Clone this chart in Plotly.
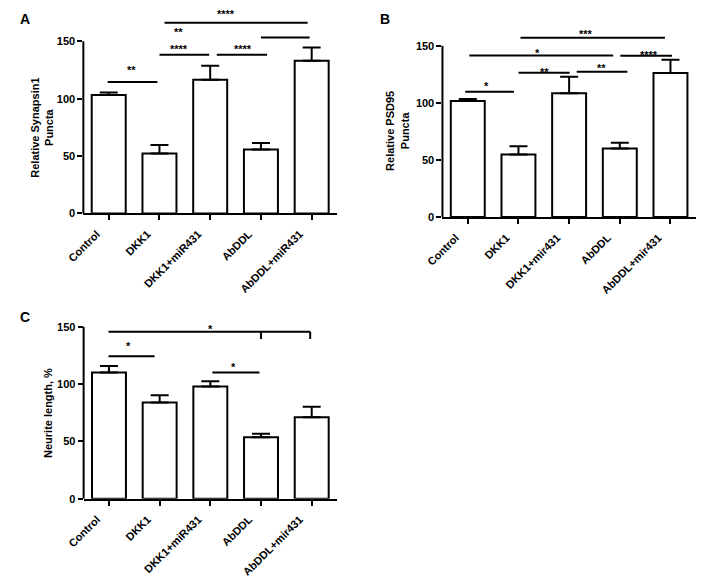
import plotly.graph_objects as go

# ---------------- data ----------------
categories_A = ["Control", "DKK1", "DKK1+miR431", "AbDDL", "AbDDL+miR431"]
categories_B = ["Control", "DKK1", "DKK1+mir431", "AbDDL", "AbDDL+mir431"]
categories_C = ["Control", "DKK1", "DKK1+miR431", "AbDDL", "AbDDL+mir431"]

synapsin_mean = [103.2, 52.3, 116.6, 55.7, 133.1]
synapsin_err = [2.3, 7.4, 12.2, 5.7, 11.5]

psd95_mean = [101.5, 54.8, 108.4, 60.0, 126.0]
psd95_err = [1.8, 7.2, 14.4, 5.1, 11.7]

neurite_mean = [110.0, 84.0, 98.0, 53.7, 71.1]
neurite_err = [5.7, 6.3, 4.5, 2.9, 9.2]

y_ticks = [0, 50, 100, 150]

# significance lines: x0, x1 (category index), y
sig_A_x0 = [-0.02, 1.0, 2.13, 3.0, 1.1]
sig_A_x1 = [0.96, 1.98, 3.12, 3.96, 3.92]
sig_A_y = [114.6, 138.3, 138.3, 153.4, 166.3]
sig_A_text = ["**", "****", "****", "**", "****"]
sig_A_tx = [0.44, 1.38, 2.65, 1.38, 2.31]
sig_A_ty = [126.9, 145.4, 145.4, 159.7, 175.7]

sig_B_x0 = [-0.05, 1.0, 2.15, 0.03, 3.01, 1.04]
sig_B_x1 = [0.91, 2.01, 3.15, 2.87, 4.03, 3.89]
sig_B_y = [109.6, 126.2, 127.1, 141.4, 141.1, 157.0]
sig_B_text = ["*", "**", "**", "*", "****", "***"]
sig_B_tx = [0.36, 1.51, 2.64, 1.38, 3.57, 2.33]
sig_B_ty = [116.2, 129.1, 132.0, 144.9, 143.4, 162.1]

sig_C_x0 = [-0.01, 2.04, -0.01]
sig_C_x1 = [0.9, 2.97, 3.97]
sig_C_y = [124.3, 110.0, 145.7]
sig_C_text = ["*", "*", "*"]
sig_C_tx = [0.39, 2.46, 2.01]
sig_C_ty = [134.8, 116.6, 150.0]
# drop ticks on the long bracket of panel C
sig_C_drop_x = [3.0, 3.97]
sig_C_drop_y0 = 145.7
sig_C_drop_y1 = 139.4

# ---------------- figure ----------------
FONT = "Arial, Liberation Sans, sans-serif"
fig = go.Figure()

panels = [
    ("x", "y", categories_A, synapsin_mean, synapsin_err),
    ("x2", "y2", categories_B, psd95_mean, psd95_err),
    ("x3", "y3", categories_C, neurite_mean, neurite_err),
]
for xa, ya, cats, vals, errs in panels:
    fig.add_trace(go.Bar(
        x=cats, y=vals, xaxis=xa, yaxis=ya, width=0.67,
        marker=dict(color="white", line=dict(color="black", width=2)),
        error_y=dict(type="data", array=errs, arrayminus=[0] * len(errs),
                     symmetric=False, color="black", thickness=2, width=9),
        showlegend=False, hoverinfo="skip",
    ))

def xaxis_cfg(domain, anchor):
    return dict(domain=domain, anchor=anchor, type="category", range=[-0.5, 4.5],
                showline=True, linewidth=2, linecolor="black",
                ticks="outside", ticklen=5, tickwidth=2, tickcolor="black",
                tickangle=-45, ticklabelshift=-12, ticklabelstandoff=3,
                tickfont=dict(family=FONT, size=11, color="black", weight="bold"),
                showgrid=False, zeroline=False, fixedrange=True)

def yaxis_cfg(domain, anchor, ymax):
    return dict(domain=domain, anchor=anchor, range=[0, ymax], tickvals=y_ticks,
                showline=False, ticks="outside", ticklen=5, tickwidth=2, tickcolor="black",
                tickfont=dict(family=FONT, size=11, color="black", weight="bold"),
                showgrid=False, zeroline=False, fixedrange=True)

fig.update_layout(
    width=701, height=587,
    margin=dict(l=0, r=0, t=0, b=0),
    paper_bgcolor="white", plot_bgcolor="rgba(0,0,0,0)",
    bargap=0.33,
    xaxis=xaxis_cfg([0.0970, 0.4679], "y"),
    yaxis=yaxis_cfg([0.6371, 0.9949], "x", 180),
    xaxis2=xaxis_cfg([0.6220, 0.9924], "y2"),
    yaxis2=yaxis_cfg([0.6308, 0.9595], "x2", 166),
    xaxis3=xaxis_cfg([0.0974, 0.4679], "y3"),
    yaxis3=yaxis_cfg([0.1426, 0.4446], "x3", 152),
)

shapes = []
annotations = []
LINE = dict(color="black", width=2)

# y-axis lines from 0 to 150
for xa, ya in [("x", "y"), ("x2", "y2"), ("x3", "y3")]:
    shapes.append(dict(type="line", xref=xa + " domain", yref=ya, x0=0, x1=0,
                       y0=0, y1=150, line=LINE))

def add_sig(xa, ya, x0s, x1s, ys, texts, txs, tys):
    for x0, x1, y in zip(x0s, x1s, ys):
        shapes.append(dict(type="line", xref=xa, yref=ya, x0=x0, x1=x1, y0=y, y1=y, line=LINE))
    for t, tx, ty in zip(texts, txs, tys):
        annotations.append(dict(text=t, xref=xa, yref=ya, x=tx, y=ty, showarrow=False,
                                xanchor="center", yanchor="middle", yshift=-2,
                                font=dict(family=FONT, size=11, color="black", weight="bold")))

add_sig("x", "y", sig_A_x0, sig_A_x1, sig_A_y, sig_A_text, sig_A_tx, sig_A_ty)
add_sig("x2", "y2", sig_B_x0, sig_B_x1, sig_B_y, sig_B_text, sig_B_tx, sig_B_ty)
add_sig("x3", "y3", sig_C_x0, sig_C_x1, sig_C_y, sig_C_text, sig_C_tx, sig_C_ty)
for dx in sig_C_drop_x:
    shapes.append(dict(type="line", xref="x3", yref="y3", x0=dx, x1=dx,
                       y0=sig_C_drop_y0, y1=sig_C_drop_y1, line=LINE))

# y-axis titles
title_font = dict(family=FONT, size=11, color="black", weight="bold")
for txt, xa, ya, px in [("Relative Synapsin1<br>Puncta", "x", "y", 26),
                        ("Relative PSD95<br>Puncta", "x2", "y2", 390),
                        ("Neurite length, %", "x3", "y3", 31)]:
    annotations.append(dict(text=txt, xref="paper", yref=ya, x=px / 701, y=75,
                            textangle=-90, showarrow=False, xanchor="center",
                            yanchor="middle", font=title_font))

# panel letters
for letter, px, py in [("A", 8, 15), ("B", 377, 15), ("C", 8, 318)]:
    annotations.append(dict(text=letter, xref="paper", yref="paper", x=px / 701,
                            y=1 - py / 587, showarrow=False, xanchor="center",
                            yanchor="middle",
                            font=dict(family=FONT, size=14, color="black", weight="bold")))

fig.update_layout(shapes=shapes, annotations=annotations)
fig.write_html("out.html", post_script="document.body.style.margin='0px';",
               config={"displayModeBar": False})
